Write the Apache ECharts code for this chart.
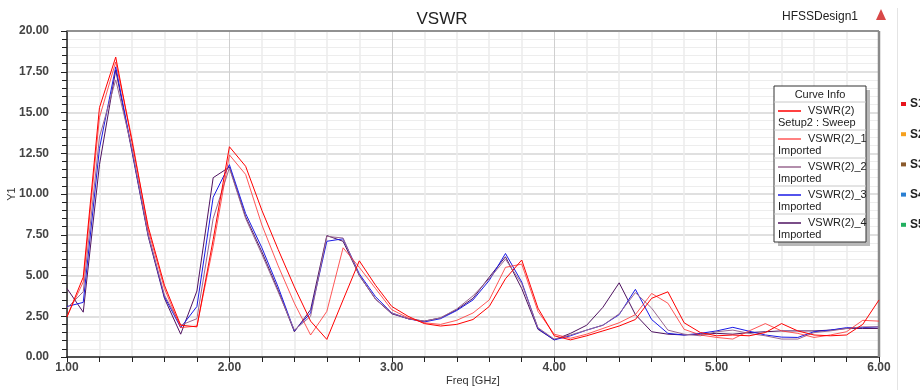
<!DOCTYPE html>
<html>
<head>
<meta charset="utf-8">
<script src="https://cdn.jsdelivr.net/npm/echarts@6/dist/echarts.min.js"></script>
<style>
  html, body { margin: 0; padding: 0; background: #fff; }
  #chart { width: 920px; height: 390px; }
</style>
</head>
<body>
<div id="chart"></div>
<script>
// frequency points, 1.0 .. 6.0 GHz step 0.1
const freq = [];
for (let i = 0; i <= 50; i++) freq.push(+(1 + i * 0.1).toFixed(1));

const vswrSweep = [2.45, 4.9, 15.3, 18.4, 13.2, 8.0, 4.4, 1.95, 1.85, 7.2,
  12.9, 11.7, 9.0, 6.6, 4.3, 2.2, 1.08, 3.5, 5.9, 4.4,
  3.1, 2.5, 2.05, 1.9, 2.0, 2.3, 3.1, 4.8, 5.95, 3.0,
  1.3, 1.05, 1.3, 1.6, 1.9, 2.3, 3.6, 4.0, 2.1, 1.5,
  1.3, 1.35, 1.3, 1.5, 2.05, 1.6, 1.35, 1.3, 1.35, 2.0, 3.5];
const vswr1 = [2.5, 4.6, 14.7, 18.1, 13.4, 7.8, 4.2, 1.8, 1.9, 6.8,
  12.4, 11.2, 8.1, 5.6, 3.3, 1.35, 2.8, 6.7, 5.5, 4.2,
  2.9, 2.4, 2.1, 2.0, 2.25, 2.7, 3.5, 5.5, 5.7, 2.8,
  1.4, 1.15, 1.4, 1.75, 2.1, 2.6, 3.9, 3.3, 1.7, 1.35,
  1.2, 1.1, 1.6, 2.05, 1.6, 1.45, 1.2, 1.35, 1.55, 2.25, 2.2];
const vswr2 = [3.0, 4.0, 13.5, 17.0, 12.8, 7.5, 3.8, 1.95, 2.35, 8.5,
  11.6, 8.5, 6.3, 4.0, 1.65, 2.5, 7.4, 7.3, 5.0, 3.55,
  2.7, 2.35, 2.2, 2.4, 2.95, 3.75, 4.8, 6.0, 4.5, 1.8,
  1.1, 1.35, 1.65, 1.95, 2.65, 3.95, 3.0, 1.65, 1.4, 1.3,
  1.55, 1.65, 1.45, 1.3, 1.1, 1.1, 1.5, 1.6, 1.75, 1.85, 1.85];
const vswr3 = [3.1, 3.35, 12.8, 17.8, 12.7, 7.5, 3.7, 1.8, 3.1, 9.8,
  11.8, 8.8, 6.7, 4.3, 1.6, 2.7, 7.1, 7.25, 5.1, 3.7,
  2.7, 2.35, 2.15, 2.35, 2.85, 3.5, 4.7, 6.35, 4.6, 1.75,
  1.05, 1.3, 1.65, 1.95, 2.6, 4.15, 2.3, 1.45, 1.35, 1.45,
  1.6, 1.82, 1.58, 1.35, 1.22, 1.2, 1.55, 1.65, 1.8, 1.8, 1.85];
const vswr4 = [4.2, 2.75, 11.8, 17.6, 12.6, 7.4, 3.6, 1.4, 4.05, 11.0,
  11.65, 8.6, 6.45, 4.1, 1.55, 2.9, 7.45, 7.1, 5.0, 3.55,
  2.65, 2.35, 2.2, 2.4, 2.9, 3.6, 4.9, 6.15, 4.2, 1.7,
  1.05, 1.45, 1.95, 3.05, 4.55, 2.6, 1.55, 1.4, 1.35, 1.4,
  1.45, 1.4, 1.5, 1.55, 1.6, 1.6, 1.6, 1.65, 1.75, 1.75, 1.75];

const curveNames = ["VSWR(2)", "VSWR(2)_1", "VSWR(2)_2", "VSWR(2)_3", "VSWR(2)_4"];
const curveSubs = ["Setup2 : Sweep", "Imported", "Imported", "Imported", "Imported"];
const curveColors = ["#ff0000", "rgba(255,45,45,0.8)", "#9a6890", "#1a1ae6", "#4e1260"];
const sideLabels = ["S1", "S2", "S3", "S4", "S5"];
const sideColors = ["#e8141c", "#f5a01e", "#8a5a2c", "#2a7fd2", "#22b060"];

const font = "Liberation Sans";
const chart = echarts.init(document.getElementById("chart"));

const series = [vswrSweep, vswr1, vswr2, vswr3, vswr4].map((arr, k) => ({
  name: curveNames[k],
  type: "line",
  data: arr.map((v, i) => [freq[i], v]),
  symbol: "none",
  lineStyle: { width: 1, color: curveColors[k] },
  z: 5 - k,
}));

// legend box "Curve Info" + side markers, drawn as graphics
const graphic = [];
const bx = 774, by = 86, bw = 92, bh = 156;
graphic.push({ type: "rect", shape: { x: bx + 4, y: by + 4, width: bw, height: bh }, style: { fill: "#b8b8b8" }, z: 10 });
graphic.push({ type: "rect", shape: { x: bx, y: by, width: bw, height: bh }, style: { fill: "#fff", stroke: "#333", lineWidth: 1 }, z: 11 });
graphic.push({ type: "text", x: bx + bw / 2, y: by + 9, style: { text: "Curve Info", font: "11px " + font, fill: "#222", align: "center", verticalAlign: "middle" }, z: 12 });
for (let k = 0; k < 5; k++) {
  const top = by + 16 + k * 28;
  graphic.push({ type: "line", shape: { x1: bx, y1: top, x2: bx + bw, y2: top }, style: { stroke: "#c8c8c8", lineWidth: 1 }, z: 12 });
  graphic.push({ type: "line", shape: { x1: bx + 4, y1: top + 9, x2: bx + 27, y2: top + 9 }, style: { stroke: curveColors[k], lineWidth: 1.5 }, z: 12 });
  graphic.push({ type: "text", x: bx + 34, y: top + 9, style: { text: curveNames[k], font: "11px " + font, fill: "#222", verticalAlign: "middle" }, z: 12 });
  graphic.push({ type: "text", x: bx + 4, y: top + 21, style: { text: curveSubs[k], font: "11px " + font, fill: "#222", verticalAlign: "middle" }, z: 12 });
}
graphic.push({ type: "text", x: 782, y: 17, style: { text: "HFSSDesign1", font: "12px " + font, fill: "#222", verticalAlign: "middle" } });
graphic.push({ type: "polygon", shape: { points: [[881, 9], [876, 20], [886, 20]] }, style: { fill: "#d84848" } });
graphic.push({ type: "line", shape: { x1: 897.5, y1: 8, x2: 897.5, y2: 390 }, style: { stroke: "#e4e4e4", lineWidth: 1 } });
for (let k = 0; k < 5; k++) {
  const y = 104 + k * 30.2;
  graphic.push({ type: "rect", shape: { x: 901, y: y - 2, width: 5, height: 4 }, style: { fill: sideColors[k] } });
  graphic.push({ type: "text", x: 910, y: y, style: { text: sideLabels[k], font: "bold 12px " + font, fill: "#222", verticalAlign: "middle" } });
}

chart.setOption({
  animation: false,
  backgroundColor: "#fff",
  title: {
    text: "VSWR",
    left: 437,
    top: 6,
    textAlign: "center",
    textStyle: { fontFamily: font, fontSize: 17, fontWeight: "normal", color: "#222" },
  },
  grid: { left: 67, right: 41, top: 31, bottom: 33, containLabel: false, outerBoundsMode: "none" },
  xAxis: {
    type: "value",
    min: 1, max: 6, interval: 1,
    name: "Freq [GHz]",
    nameLocation: "middle",
    nameGap: 18,
    nameMoveOverlap: false,
    nameTextStyle: { fontFamily: font, fontSize: 11, color: "#333" },
    axisLine: { show: true, onZero: false, lineStyle: { color: "#222", width: 1.5 } },
    axisTick: { show: true, length: 5, lineStyle: { color: "#222" } },
    minorTick: { show: true, splitNumber: 5, length: 5, lineStyle: { color: "#222" } },
    axisLabel: { fontFamily: font, fontSize: 12, fontWeight: "bold", color: "#444", margin: 5, formatter: (v) => v.toFixed(2) },
    splitLine: { show: true, lineStyle: { color: "#cfcfcf", width: 1 } },
    minorSplitLine: { show: true, lineStyle: { color: "#ececec", width: 1.5 } },
  },
  yAxis: {
    type: "value",
    min: 0, max: 20, interval: 2.5,
    name: "Y1",
    nameLocation: "middle",
    nameGap: 50,
    nameMoveOverlap: false,
    nameTextStyle: { fontFamily: font, fontSize: 11, color: "#333" },
    axisLine: { show: true, onZero: false, lineStyle: { color: "#222", width: 1.5 } },
    axisTick: { show: true, length: 6, lineStyle: { color: "#222" } },
    minorTick: { show: true, splitNumber: 5, length: 5, lineStyle: { color: "#222" } },
    axisLabel: { fontFamily: font, fontSize: 12, fontWeight: "bold", color: "#444", margin: 18, formatter: (v) => v.toFixed(2) },
    splitLine: { show: true, lineStyle: { color: "#d6d6d6", width: 1.5 } },
    minorSplitLine: { show: true, lineStyle: { color: "#ededed", width: 1 } },
  },
  series: series,
  graphic: graphic.concat([
    { type: "line", shape: { x1: 67, y1: 31, x2: 879, y2: 31 }, style: { stroke: "#777", lineWidth: 1.5 }, z: 3 },
    { type: "line", shape: { x1: 879, y1: 31, x2: 879, y2: 357 }, style: { stroke: "#8a8a8a", lineWidth: 2.5 }, z: 3 },
  ]),
});
</script>
</body>
</html>
